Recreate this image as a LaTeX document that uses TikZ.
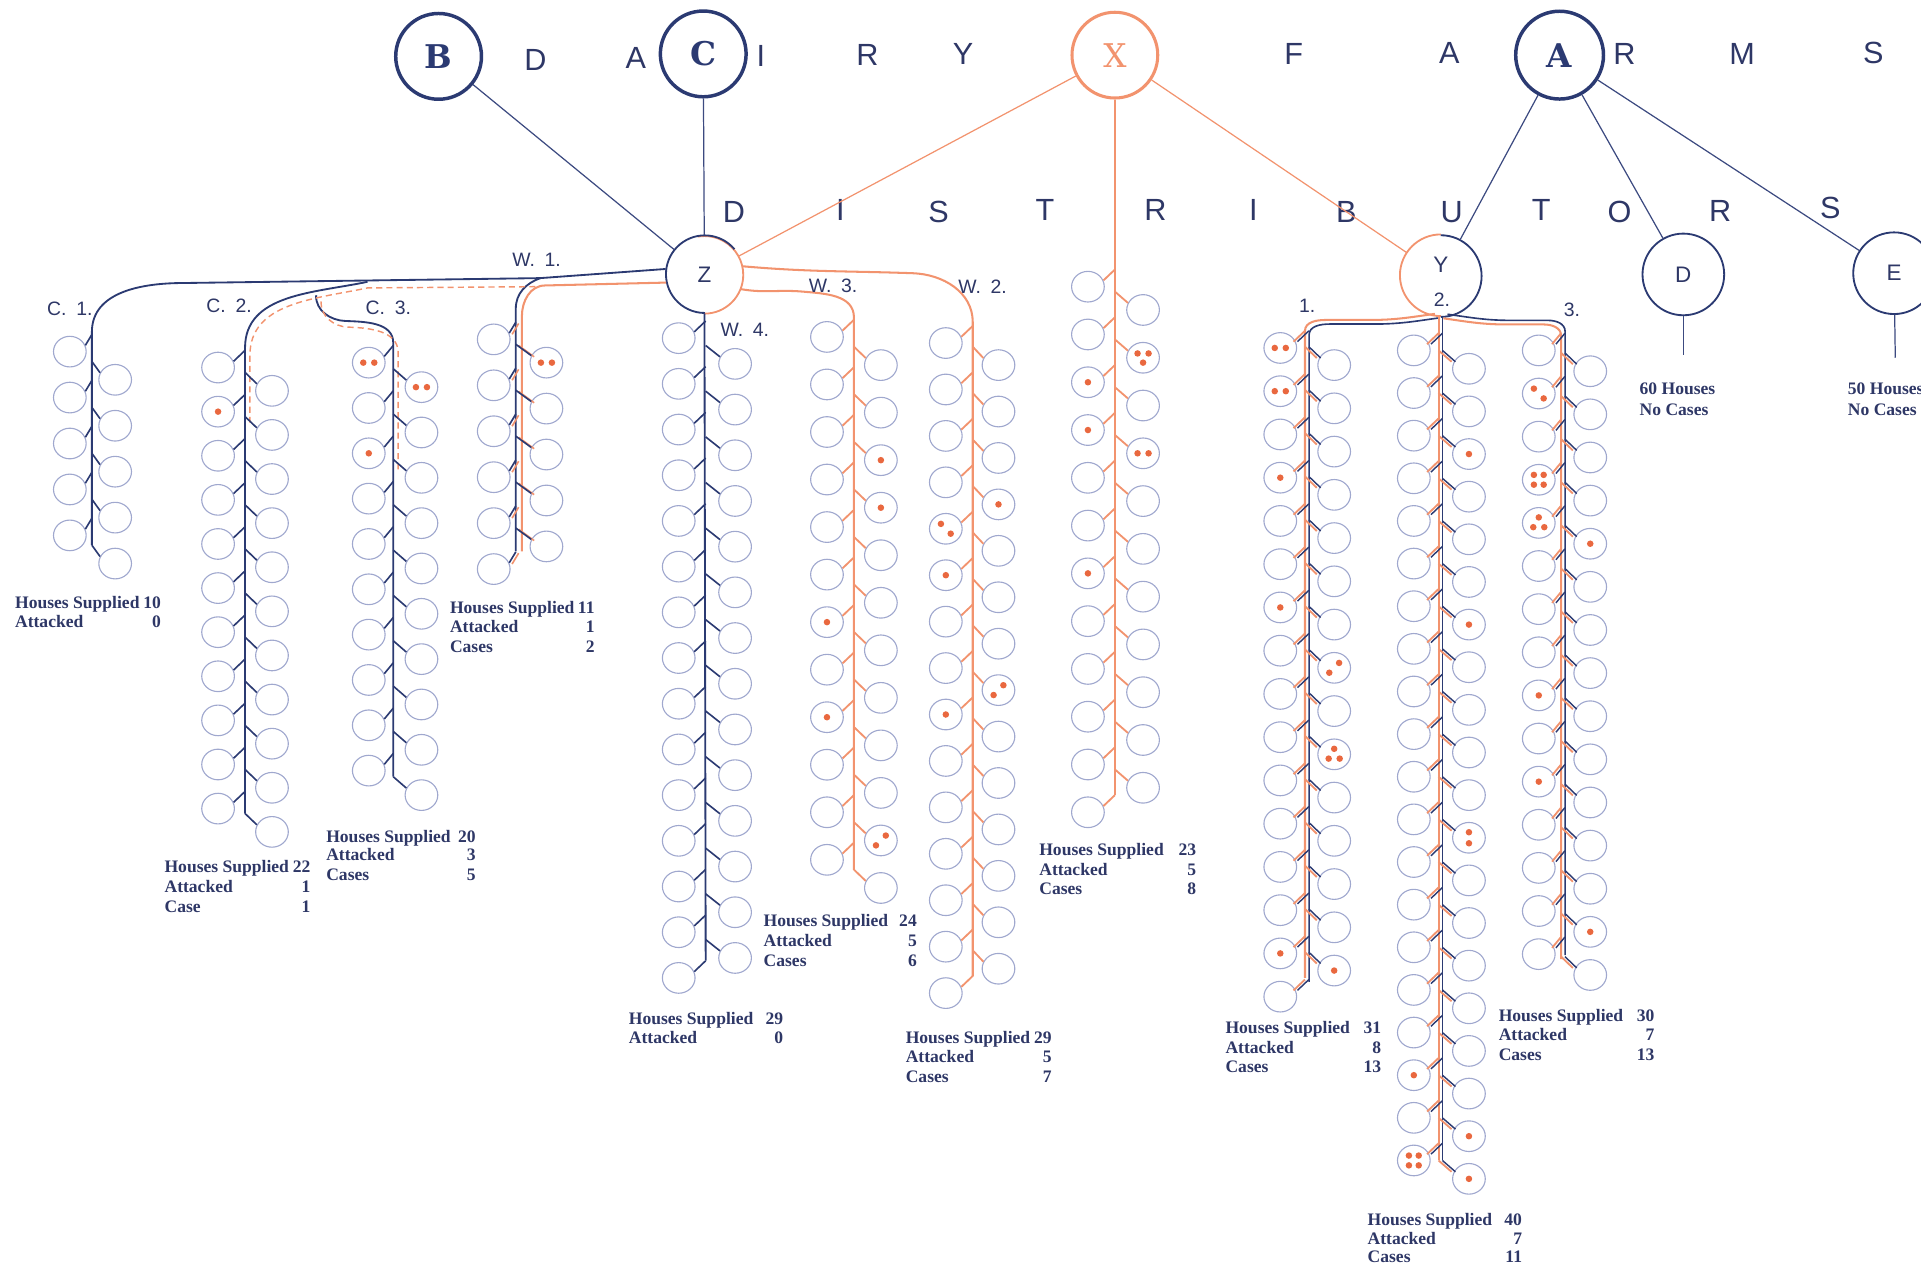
\documentclass[tikz,border=0pt]{standalone}
\usepackage{fontspec}
\setmainfont{Liberation Serif}
\newfontfamily\sansf{Liberation Sans}
\newfontfamily\slabf{DejaVu Serif}
\usetikzlibrary{shapes.geometric}
\definecolor{navy}{HTML}{2B3A72}
\definecolor{lnav}{HTML}{3C4A80}
\definecolor{orng}{HTML}{F2936E}
\definecolor{dotc}{HTML}{E9683F}
\definecolor{hous}{HTML}{A0A8CE}
\definecolor{txt}{HTML}{2E3766}

\newcommand\brB[2]{\draw[navy,line width=0.8pt] #1 -- #2;}
\newcommand\brO[2]{\draw[orng,line width=0.9pt] #1 -- #2;}
\newcommand\brD[2]{\draw[orng,line width=0.9pt,transform canvas={xshift=-1.1pt}] #1 -- #2;\draw[navy,line width=0.7pt,transform canvas={xshift=0.8pt}] #1 -- #2;}
\newcommand\brW[2]{\draw[orng,line width=0.8pt,transform canvas={xshift=1.4pt,yshift=-0.6pt}] #1 -- #2;\draw[navy,line width=0.8pt] #1 -- #2;}
\let\brdraw\brB

\newcommand\housecol[9]{%
 \foreach \i in {1,...,#8}{%
  \node[house] (#1L\i) at (#3,{#5+(\i-1)*#7}) {};
  \brdraw{(#1L\i.22)}{(#2,{#5+(\i-1)*#7-14})}
 }%
 \foreach \i in {1,...,#9}{%
  \node[house] (#1R\i) at (#4,{#6+(\i-1)*#7}) {};
  \brdraw{(#2,{#6+(\i-1)*#7-15})}{(#1R\i.155)}
 }%
}

\newcommand\spotA[1]{\fill[dotc] (#1.center) circle[radius=1.6pt];}
\newcommand\spotP[3]{\fill[dotc] ([shift={(#2,#3)}]#1.center) circle[radius=1.6pt];}
\newcommand\spotH[1]{\spotP{#1}{-4.5}{0}\spotP{#1}{4.5}{0}}
\newcommand\spotR[1]{\spotP{#1}{4}{-4}\spotP{#1}{-4}{4}}
\newcommand\spotL[1]{\spotP{#1}{-4}{-4}\spotP{#1}{4}{4}}
\newcommand\spotV[1]{\spotP{#1}{0}{-4.5}\spotP{#1}{0}{4.5}}
\newcommand\spotT[1]{\spotP{#1}{-4.5}{-3.5}\spotP{#1}{4.5}{-3.5}\spotP{#1}{0}{4}}
\newcommand\spotU[1]{\spotP{#1}{0}{-4.5}\spotP{#1}{-4.5}{3.5}\spotP{#1}{4.5}{3.5}}
\newcommand\spotQ[1]{\spotP{#1}{-4}{-4}\spotP{#1}{4}{-4}\spotP{#1}{-4}{4}\spotP{#1}{4}{4}}

\newcommand\statline[6]{\node[stat,anchor=base west] (#1) at (#2,{#3+4.5}) {\hbox to \dimexpr 0.6pt*(#4-#2)\relax{#5\hfill #6}};}

\begin{document}
\begin{tikzpicture}[x=0.6pt,y=-0.6pt,
 house/.style={ellipse,draw=hous,line width=0.55pt,minimum width=16pt,minimum height=15pt,inner sep=0pt},
 pipeB/.style={draw=navy,line width=0.9pt},
 pipeO/.style={draw=orng,line width=1.0pt},
 link/.style={line width=0.6pt},
 stat/.style={text=txt,font=\fontsize{8.6}{9.6}\selectfont\bfseries,inner sep=0pt},
 title/.style={text=txt,font=\sansf\fontsize{15}{15}\selectfont,inner sep=0pt},
 lab/.style={text=txt,font=\sansf\fontsize{9.5}{9.5}\selectfont,inner sep=0pt},
 big/.style={circle,minimum size=42pt,inner sep=0pt},
 dist/.style={circle,minimum size=38pt,inner sep=0pt,text=txt,font=\sansf\fontsize{11}{11}\selectfont}]
\useasboundingbox (0,0) rectangle (1568,1034);
\clip (0,0) rectangle (1568,1034);

% ---- top circles
\node[big,draw=navy,line width=1.7pt,text=navy,font=\slabf\bfseries\fontsize{16}{16}\selectfont] (B) at (358,46) {B};
\node[big,draw=navy,line width=1.7pt,text=navy,font=\slabf\bfseries\fontsize{16}{16}\selectfont] (C) at (574,44) {C};
\node[big,draw=orng,line width=1.5pt,text=orng,font=\slabf\fontsize{16}{16}\selectfont] (X) at (910,45) {X};
\node[big,minimum size=43pt,draw=navy,line width=1.7pt,text=navy,font=\slabf\bfseries\fontsize{16}{16}\selectfont] (A) at (1273,45) {A};

% ---- title letters
\node[title] (t1) at (437,49) {D};
\node[title] (t2) at (519,47) {A};
\node[title] (t3) at (621,46) {I};
\node[title] (t4) at (708,45) {R};
\node[title] (t5) at (786,44) {Y};
\node[title] (t6) at (1056,44) {F};
\node[title] (t7) at (1183,43) {A};
\node[title] (t8) at (1326,44) {R};
\node[title] (t9) at (1422,44) {M};
\node[title] (t10) at (1529,43) {S};
\node[title] (u1) at (599,173) {D};
\node[title] (u2) at (686,171) {I};
\node[title] (u3) at (766,173) {S};
\node[title] (u4) at (853,171) {T};
\node[title] (u5) at (943,171) {R};
\node[title] (u6) at (1023,171) {I};
\node[title] (u7) at (1099,173) {B};
\node[title] (u8) at (1185,173) {U};
\node[title] (u9) at (1258,171) {T};
\node[title] (u10) at (1322,173) {O};
\node[title] (u11) at (1404,172) {R};
\node[title] (u12) at (1494,170) {S};

% ---- distributors
\node[dist] (Z) at (575,224) {Z};
\node[dist,minimum size=40pt] (Y) at (1176,225) {};
\node[dist,minimum size=40pt,draw=navy,line width=0.9pt] (D) at (1374,224) {D};
\node[dist,minimum size=40pt,draw=navy,line width=0.9pt] (E) at (1546,223) {E};
\draw[orng,line width=0.9pt] (Z.-90) arc[start angle=-90,end angle=100,radius=19pt];
\draw[navy,line width=0.9pt] (Z.40) arc[start angle=40,end angle=270,radius=19pt];
\draw[orng,line width=0.9pt] (Y.90) arc[start angle=90,end angle=270,radius=20pt];
\draw[navy,line width=0.9pt] (Y.-90) arc[start angle=-90,end angle=90,radius=20pt];
\node[dist] (Ylet) at (1176,216) {Y};
\node[lab] (y2) at (1177,245) {2.};
\node[lab] (y1) at (1067,250) {1.};
\node[lab] (y3) at (1283,253) {3.};

% ---- links between farms and distributors
\draw[lnav,link] (B) -- (Z);
\draw[lnav,link] (C) -- (Z);
\draw[orng,link] (X) -- (Z);
\draw[orng,link] (X) -- (Y);
\draw[lnav,link] (A) -- (Y);
\draw[lnav,link] (A) -- (D);
\draw[lnav,link] (A) -- (E);
\coordinate (dend) at (1374,290);
\coordinate (eend) at (1547,292);
\draw[lnav,link] (D) -- (dend);
\draw[lnav,link] (E) -- (eend);
\coordinate (xend) at (910,649);
\draw[pipeO] (X) -- (xend);

% ---- mains from Z
\draw[pipeB] (Z.172) -- (441,227) -- (150,231) to[out=180,in=90] (75,271) -- (75,445);
\draw[pipeB] (441,227) to[out=200,in=90] (421,252) -- (421,450);
\draw[pipeB] (300,230) to[out=192,in=90] (200,284) -- (200,664);
\draw[pipeB] (258,241) to[out=-92,in=178] (282,262) to[out=-2,in=90] (321,280) -- (321,634);
\draw[pipeO] (Z.192) -- (445,233) to[out=180,in=90] (426,258) -- (426,450);
\draw[orng,line width=0.7pt,dash pattern=on 3pt off 2pt] (437,234) -- (300,235) to[out=192,in=90] (204,290) -- (204,345);
\draw[orng,line width=0.7pt,dash pattern=on 3pt off 2pt] (262,246) to[out=-92,in=178] (284,267) to[out=-2,in=90] (325,288) -- (325,385);
\draw[pipeB] (Z.south) -- (576,784);
\draw[pipeO] (Z.-22) to[out=-10,in=175] (655,238) to[out=-5,in=90] (697,259) -- (697,710);
\draw[pipeO] (Z.12) to[out=-5,in=178] (745,223) to[out=-2,in=90] (794,263) -- (794,797);

% ---- mains from Y
\draw[orng,line width=1.0pt,xshift=-1.1pt,yshift=1.1pt] (1173,258) to[out=188,in=0] (1120,263) -- (1084,263) to[out=180,in=90] (1067,272) -- (1067,800);
\draw[navy,line width=0.8pt,xshift=0.9pt,yshift=-0.9pt] (1173,258) to[out=188,in=0] (1120,263) -- (1084,263) to[out=180,in=90] (1067,272) -- (1067,800);
\draw[orng,line width=1.0pt,xshift=-1.1pt] (1176,258) -- (1176,947);
\draw[navy,line width=0.8pt,xshift=0.9pt] (1176,258) -- (1176,947);
\draw[orng,line width=1.0pt,xshift=-1.1pt,yshift=-1.1pt] (1180,258) to[out=-8,in=180] (1232,263) -- (1262,263) to[out=0,in=90] (1276,272) -- (1276,781);
\draw[navy,line width=0.8pt,xshift=0.9pt,yshift=0.9pt] (1180,258) to[out=-8,in=180] (1232,263) -- (1262,263) to[out=0,in=90] (1276,272) -- (1276,781);

% ---- street labels
\node[lab] (lc1) at (57,252) {C.\enspace 1.};
\node[lab] (lc2) at (187,250) {C.\enspace 2.};
\node[lab] (lc3) at (317,251) {C.\enspace 3.};
\node[lab] (lw1) at (438,212) {W.\enspace 1.};
\node[lab] (lw4) at (608,269) {W.\enspace 4.};
\node[lab] (lw3) at (680,233) {W.\enspace 3.};
\node[lab] (lw2) at (802,234) {W.\enspace 2.};

% ---- houses
\let\brdraw\brB
\housecol{Ca}{75}{57}{94}{287}{310}{37.5}{5}{5}
\housecol{Cb}{200}{178}{222}{300}{319}{36}{11}{11}
\housecol{Cc}{321}{301}{344}{296}{316}{37}{10}{10}
\housecol{Wd}{576}{554}{600}{276}{297}{37.3}{15}{14}
\let\brdraw\brW
\housecol{Wa}{421}{403}{446}{277}{296}{37.5}{6}{5}
\let\brdraw\brO
\housecol{Wc}{697}{675}{719}{275}{298}{38.8}{12}{12}
\housecol{Wb}{794}{772}{815}{280}{298}{37.9}{15}{14}
\housecol{Xc}{910}{888}{933}{234}{253}{39}{12}{11}
\let\brdraw\brD
\housecol{Ya}{1067}{1045}{1089}{284}{298}{35.3}{16}{15}
\housecol{Yb}{1176}{1154}{1199}{286}{301}{34.8}{20}{20}
\housecol{Yc}{1276}{1256}{1298}{286}{303}{35.2}{15}{15}

% ---- cases
\spotA{CbL2}
\spotH{CcL1}\spotH{CcR1}\spotA{CcL3}
\spotH{WaR1}
\spotA{WcR3}\spotA{WcR4}\spotA{WcL7}\spotA{WcL9}\spotR{WcR11}
\spotL{WbL5}\spotA{WbL6}\spotA{WbL9}\spotA{WbR4}\spotR{WbR8}
\spotT{XcR2}\spotA{XcL3}\spotA{XcL4}\spotH{XcR4}\spotA{XcL7}
\spotH{YaL1}\spotH{YaL2}\spotA{YaL4}\spotA{YaL7}\spotA{YaL15}\spotR{YaR8}\spotU{YaR10}\spotA{YaR15}
\spotA{YbR3}\spotA{YbR7}\spotV{YbR12}\spotA{YbL18}\spotQ{YbL20}\spotA{YbR19}\spotA{YbR20}
\spotL{YcL2}\spotQ{YcL4}\spotU{YcL5}\spotA{YcL9}\spotA{YcL11}\spotA{YcR5}\spotA{YcR14}

% ---- statistics
\statline{s1a}{12}{492}{131}{Houses Supplied}{10}
\statline{s1b}{12}{508}{131}{Attacked}{0}
\statline{s2a}{134}{708}{253}{Houses Supplied}{22}
\statline{s2b}{134}{724}{253}{Attacked}{1}
\statline{s2c}{134}{740}{253}{Case}{1}
\statline{s3a}{266}{683}{388}{Houses Supplied}{20}
\statline{s3b}{266}{698}{388}{Attacked}{3}
\statline{s3c}{266}{714}{388}{Cases}{5}
\statline{s4a}{367}{496}{485}{Houses Supplied}{11}
\statline{s4b}{367}{512}{485}{Attacked}{1}
\statline{s4c}{367}{528}{485}{Cases}{2}
\statline{s5a}{513}{832}{639}{Houses Supplied}{29}
\statline{s5b}{513}{847}{639}{Attacked}{0}
\statline{s6a}{623}{752}{748}{Houses Supplied}{24}
\statline{s6b}{623}{768}{748}{Attacked}{5}
\statline{s6c}{623}{784}{748}{Cases}{6}
\statline{s7a}{739}{847}{858}{Houses Supplied}{29}
\statline{s7b}{739}{863}{858}{Attacked}{5}
\statline{s7c}{739}{879}{858}{Cases}{7}
\statline{s8a}{848}{694}{976}{Houses Supplied}{23}
\statline{s8b}{848}{710}{976}{Attacked}{5}
\statline{s8c}{848}{726}{976}{Cases}{8}
\statline{s9a}{1000}{839}{1127}{Houses Supplied}{31}
\statline{s9b}{1000}{855}{1127}{Attacked}{8}
\statline{s9c}{1000}{871}{1127}{Cases}{13}
\statline{s10a}{1116}{996}{1242}{Houses Supplied}{40}
\statline{s10b}{1116}{1011}{1242}{Attacked}{7}
\statline{s10c}{1116}{1026}{1242}{Cases}{11}
\statline{s11a}{1223}{829}{1350}{Houses Supplied}{30}
\statline{s11b}{1223}{845}{1350}{Attacked}{7}
\statline{s11c}{1223}{861}{1350}{Cases}{13}
\node[stat,anchor=base west] (sda) at (1338,322) {60 Houses};
\node[stat,anchor=base west] (sdb) at (1338,339) {No Cases};
\node[stat,anchor=base west] (sea) at (1508,322) {50 Houses};
\node[stat,anchor=base west] (seb) at (1508,339) {No Cases};
\end{tikzpicture}
\end{document}
